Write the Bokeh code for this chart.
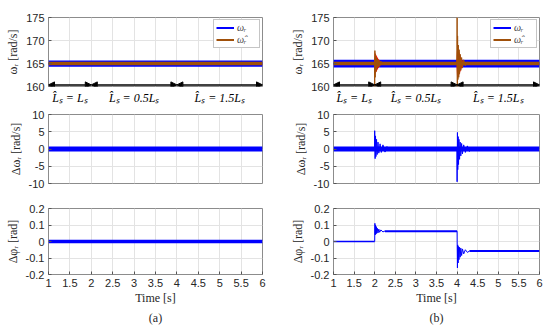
from bokeh.plotting import figure
from bokeh.layouts import row, column
from bokeh.models import (Range1d, FixedTicker, Legend, LegendItem, Arrow, NormalHead,
                          ColumnDataSource, Title)
from bokeh.embed import file_html
from bokeh.resources import INLINE

# ---------------- data ----------------
x_ticks = [1.0, 1.5, 2.0, 2.5, 3.0, 3.5, 4.0, 4.5, 5.0, 5.5, 6.0]
x_tick_labels = ["1", "1.5", "2", "2.5", "3", "3.5", "4", "4.5", "5", "5.5", "6"]
w_ticks = [160, 165, 170, 175]
w_tick_labels = ["160", "165", "170", "175"]
dw_ticks = [-10, -5, 0, 5, 10]
dw_tick_labels = ["-10", "-5", "0", "5", "10"]
dphi_ticks = [-0.2, -0.1, 0.0, 0.1, 0.2]
dphi_tick_labels = ["-0.2", "-0.1", "0", "0.1", "0.2"]

seg_starts = [1.0, 2.0, 4.0]
seg_ends = [2.0, 4.0, 6.0]
seg_label_x = [1.5, 3.0, 5.0]
seg_labels = ["L\u0302\u209b = L\u209b", "L\u0302\u209b = 0.5L\u209b", "L\u0302\u209b = 1.5L\u209b"]

# (a) steady-state noise bands (upper / lower envelopes)
a_t = [1.0, 6.0]
a_w_mid = [165.0, 165.0]
a_w_hi = [165.65, 165.65]
a_w_lo = [164.3, 164.3]
a_wh_hi = [165.4, 165.4]
a_wh_lo = [164.6, 164.6]
a_dw_hi = [0.75, 0.75]
a_dw_lo = [-0.75, -0.75]
a_dphi_hi = [0.011, 0.011]
a_dphi_lo = [-0.011, -0.011]

# (b) steady-state noise bands
b_t = [1.0, 6.0]
b_w_mid = [165.0, 165.0]
b_w_hi = [165.8, 165.8]
b_w_lo = [164.15, 164.15]
b_wh_hi = [165.4, 165.4]
b_wh_lo = [164.6, 164.6]
b_dw_hi = [0.75, 0.75]
b_dw_lo = [-0.75, -0.75]
b_dphi_seg_t = [[1.0, 2.0], [2.25, 4.0], [4.3, 6.0]]
b_dphi_seg_hi = [[0.004, 0.004], [0.068, 0.068], [-0.052, -0.052]]
b_dphi_seg_lo = [[-0.004, -0.004], [0.056, 0.056], [-0.064, -0.064]]

# (b) red high-frequency envelopes of the estimated speed at the switching instants
b_red_t = [[1.985, 2.0, 2.04, 2.09, 2.14], [3.985, 4.0, 4.05, 4.1, 4.15]]
b_red_hi = [[165.4, 167.5, 166.8, 166.0, 165.4], [165.4, 168.5, 167.6, 166.2, 165.4]]
b_red_lo = [[164.6, 162.5, 163.2, 164.0, 164.6], [164.6, 161.8, 162.5, 163.8, 164.6]]

# (b) transients of estimated speed
b_wh_tr1_t = [1.995, 2.0, 2.005, 2.012, 2.02, 2.03, 2.04, 2.05, 2.065, 2.08, 2.1, 2.12, 2.15, 2.2, 2.25, 2.3]
b_wh_tr1_v = [165.0, 160.0, 167.8, 162.0, 167.0, 163.2, 166.4, 163.8, 166.0, 164.2, 165.8, 164.4, 165.5, 164.7, 165.3, 165.0]
b_wh_tr2_t = [3.995, 4.0, 4.005, 4.012, 4.02, 4.03, 4.04, 4.05, 4.06, 4.075, 4.09, 4.11, 4.13, 4.16, 4.2, 4.25, 4.3]
b_wh_tr2_v = [165.0, 175.0, 160.0, 171.0, 161.5, 169.0, 162.0, 168.0, 162.8, 167.0, 163.5, 166.3, 164.0, 165.8, 164.5, 165.3, 165.0]

# (b) transients of speed error
b_dw_tr1_t = [1.995, 2.0, 2.01, 2.02, 2.03, 2.045, 2.06, 2.08, 2.1, 2.13, 2.16, 2.2, 2.25, 2.3]
b_dw_tr1_v = [0.0, 5.3, -2.8, 3.8, -2.2, 2.8, -1.6, 2.0, -1.2, 1.5, -1.0, 1.2, -0.9, 0.8]
b_dw_tr2_t = [3.995, 4.0, 4.008, 4.016, 4.025, 4.035, 4.045, 4.06, 4.075, 4.09, 4.11, 4.13, 4.16, 4.2, 4.25, 4.3]
b_dw_tr2_v = [0.0, -9.5, 4.8, -6.0, 3.6, -4.5, 2.8, -3.0, 2.0, -2.0, 1.6, -1.4, 1.2, -1.0, 0.9, -0.8]

# (b) transients of position error
b_dphi_tr1_t = [1.998, 2.0, 2.005, 2.012, 2.02, 2.03, 2.04, 2.05, 2.065, 2.08, 2.1, 2.12, 2.15, 2.2, 2.25]
b_dphi_tr1_v = [0.0, 0.0, 0.11, 0.04, 0.10, 0.045, 0.09, 0.05, 0.08, 0.052, 0.075, 0.056, 0.07, 0.058, 0.064]
b_dphi_tr2_t = [3.998, 4.0, 4.002, 4.008, 4.015, 4.025, 4.035, 4.045, 4.06, 4.075, 4.09, 4.11, 4.13, 4.16, 4.2, 4.25, 4.3]
b_dphi_tr2_v = [0.062, 0.062, -0.02, -0.16, -0.02, -0.13, -0.03, -0.11, -0.035, -0.095, -0.04, -0.085, -0.045, -0.075, -0.05, -0.066, -0.058]

# ---------------- style ----------------
BLUE = "#0000FF"
BROWN = "#A0500A"
RED = "#FF0000"
TICK_FONT = "Liberation Sans"
SERIF = "Liberation Serif"
TXT = "#262626"
GRID = "#e3e3e3"


def make_fig(width, height, yr, yticks, ylabels, ylabel, bl, br, bt, bb, top_row, xlabel=None, caption=None):
    p = figure(width=width, height=height, x_range=Range1d(1, 6), y_range=Range1d(*yr),
               output_backend="svg", toolbar_location=None,
               min_border_left=bl, min_border_right=br, min_border_top=bt, min_border_bottom=bb)
    p.background_fill_color = "white"
    p.border_fill_color = "white"
    p.outline_line_color = "#8c8c8c"
    p.outline_line_width = 1
    p.yaxis.ticker = FixedTicker(ticks=yticks)
    p.yaxis.major_label_overrides = dict(zip(yticks, ylabels))
    for ax in (p.xaxis, p.yaxis):
        ax.axis_line_color = None
        ax.major_tick_in = 3
        ax.major_tick_out = 0
        ax.major_tick_line_color = "#555555"
        ax.minor_tick_line_color = None
        ax.major_label_text_font = TICK_FONT
        ax.major_label_text_font_size = "11px"
        ax.major_label_text_color = TXT
        ax.major_label_standoff = 4
    p.xgrid.ticker = FixedTicker(ticks=x_ticks)
    p.xgrid.grid_line_color = GRID
    p.ygrid.grid_line_color = GRID
    p.yaxis.axis_label = ylabel
    p.yaxis.axis_label_text_font = SERIF
    p.yaxis.axis_label_text_font_size = "12px"
    p.yaxis.axis_label_text_font_style = "normal"
    p.yaxis.axis_label_text_color = TXT
    p.yaxis.axis_label_standoff = 3
    if top_row is True:
        # x axis carries the estimated-inductance segment labels
        p.xaxis.ticker = FixedTicker(ticks=seg_label_x)
        p.xaxis.major_label_overrides = dict(zip(seg_label_x, seg_labels))
        p.xaxis.major_tick_line_color = None
        p.xaxis.major_label_text_font = SERIF
        p.xaxis.major_label_text_font_style = "italic"
        p.xaxis.major_label_text_font_size = "12px"
        p.xaxis.major_label_text_color = "black"
        p.xaxis.major_label_standoff = 4
    elif top_row is None:
        p.xaxis.visible = False
    else:
        p.xaxis.ticker = FixedTicker(ticks=x_ticks)
        p.xaxis.major_label_overrides = dict(zip(x_ticks, x_tick_labels))
    if xlabel:
        p.xaxis.axis_label = xlabel
        p.xaxis.axis_label_text_font = SERIF
        p.xaxis.axis_label_text_font_size = "12px"
        p.xaxis.axis_label_text_font_style = "normal"
        p.xaxis.axis_label_text_color = TXT
        p.xaxis.axis_label_standoff = 1
    if caption:
        p.add_layout(Title(text=caption, align="center", text_font=SERIF, text_font_size="12px",
                           text_font_style="normal", text_color=TXT, standoff=2, offset=0), "below")
    return p


def band(p, t, lo, hi, color, alpha=1.0):
    p.varea(x=t, y1=lo, y2=hi, fill_color=color, fill_alpha=alpha)


def speed_panel(width, bl, br, t, w_mid, w_lo, w_hi, wh_lo, wh_hi, reds, transients):
    p = make_fig(width, 107, (160, 175), w_ticks, w_tick_labels, "\u03c9\u1d63 [rad/s]",
                 bl, br, 17, 20, True)
    band(p, t, w_lo, w_hi, BLUE)
    blue_line = p.line(t, w_mid, line_color=BLUE, line_width=2)
    for rt, rlo, rhi in reds:
        band(p, rt, rlo, rhi, RED, 1.0)
    band(p, t, wh_lo, wh_hi, BROWN)
    brown_line = p.line(t, w_mid, line_color=BROWN, line_width=2)
    for tt, vv in transients:
        p.line(tt, vv, line_color=BROWN, line_width=1)
    src = ColumnDataSource(dict(x0=seg_starts, x1=seg_ends, y=[160.35] * len(seg_starts)))
    p.add_layout(Arrow(x_start="x0", x_end="x1", y_start="y", y_end="y", source=src,
                       line_color="black", line_width=1.5,
                       start=NormalHead(size=6, fill_color="black", line_color="black"),
                       end=NormalHead(size=6, fill_color="black", line_color="black")))
    legend = Legend(items=[LegendItem(label="\u03c9\u1d63", renderers=[blue_line]),
                           LegendItem(label="\u03c9\u0302\u1d63", renderers=[brown_line])],
                    location="top_right", label_text_font=SERIF, label_text_font_style="italic",
                    label_text_font_size="10px", label_height=9, glyph_height=9, glyph_width=18,
                    spacing=1, padding=2, margin=2, label_standoff=3,
                    border_line_color="#8c8c8c", background_fill_alpha=1)
    p.add_layout(legend)
    return p


def dw_panel(width, bl, br, t, lo, hi, transients):
    p = make_fig(width, 94, (-10, 10), dw_ticks, dw_tick_labels, "\u0394\u03c9\u1d63 [rad/s]",
                 bl, br, 7, 18, None)
    band(p, t, lo, hi, BLUE)
    for tt, vv in transients:
        p.line(tt, vv, line_color=BLUE, line_width=1)
    return p


def dphi_panel(width, bl, br, segs, transients, caption):
    p = make_fig(width, 124, (-0.2, 0.2), dphi_ticks, dphi_tick_labels, "\u0394\u03c6\u1d63 [rad]",
                 bl, br, 7, 46, False, xlabel="Time [s]", caption=caption)
    for t, lo, hi in segs:
        band(p, t, lo, hi, BLUE)
    for tt, vv in transients:
        p.line(tt, vv, line_color=BLUE, line_width=1)
    return p


LW, LBL, LBR = 287, 48, 25
RW, RBL, RBR = 263, 40, 11

pa1 = speed_panel(LW, LBL, LBR, a_t, a_w_mid, a_w_lo, a_w_hi, a_wh_lo, a_wh_hi, [], [])
pa2 = dw_panel(LW, LBL, LBR, a_t, a_dw_lo, a_dw_hi, [])
pa3 = dphi_panel(LW, LBL, LBR, [(a_t, a_dphi_lo, a_dphi_hi)], [], "(a)")

pb1 = speed_panel(RW, RBL, RBR, b_t, b_w_mid, b_w_lo, b_w_hi, b_wh_lo, b_wh_hi,
                  list(zip(b_red_t, b_red_lo, b_red_hi)),
                  [(b_wh_tr1_t, b_wh_tr1_v), (b_wh_tr2_t, b_wh_tr2_v)])
pb2 = dw_panel(RW, RBL, RBR, b_t, b_dw_lo, b_dw_hi,
               [(b_dw_tr1_t, b_dw_tr1_v), (b_dw_tr2_t, b_dw_tr2_v)])
pb3 = dphi_panel(RW, RBL, RBR, list(zip(b_dphi_seg_t, b_dphi_seg_lo, b_dphi_seg_hi)),
                 [(b_dphi_tr1_t, b_dphi_tr1_v), (b_dphi_tr2_t, b_dphi_tr2_v)], "(b)")

layout = row(column(pa1, pa2, pa3, spacing=0), column(pb1, pb2, pb3, spacing=0), spacing=0)

open("out.html", "w").write(file_html(layout, INLINE))
